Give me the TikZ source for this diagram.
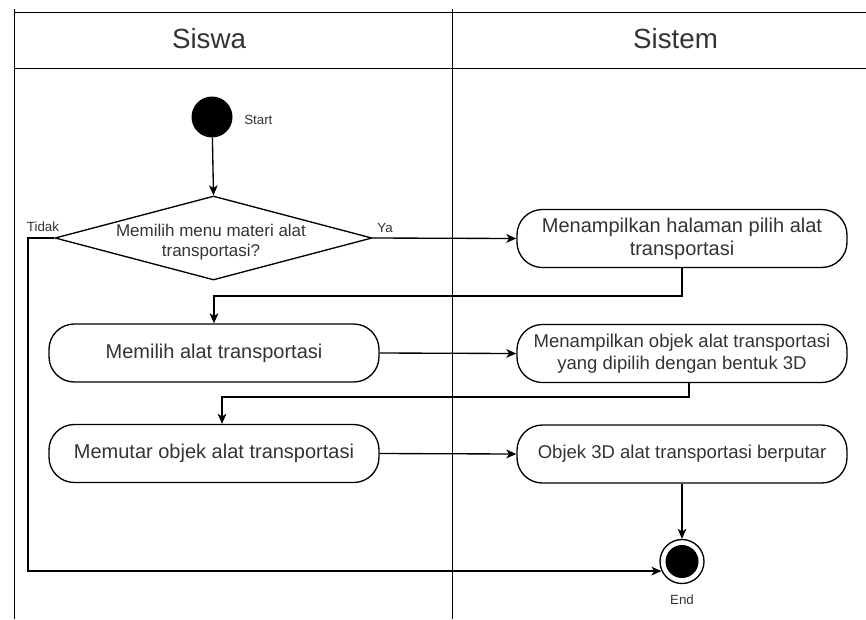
\documentclass[tikz,border=0pt]{standalone}
\usepackage{fontspec}
\setmainfont{Liberation Sans}
\usetikzlibrary{arrows.meta,shapes.geometric,calc}
\definecolor{ink}{HTML}{333333}
\begin{document}
\begin{tikzpicture}[x=0.75pt,y=-0.75pt,
  lane/.style={line width=0.75pt, draw=black},
  act/.style={draw, line width=1pt, rounded corners=19pt, minimum width=247.5pt,
    minimum height=43.5pt, align=center, text=ink, inner sep=0pt,
    font=\fontsize{15}{17.25}\selectfont},
  actsm/.style={act, font=\fontsize{13.9}{16.5}\selectfont},
  arr/.style={draw, line width=1pt, -{Stealth[length=7.5pt,width=6.5pt,inset=2pt]}},
  lbl/.style={text=ink, font=\fontsize{10}{12}\selectfont, inner sep=0pt},
  head/.style={text=ink, font=\fontsize{20.8}{24}\selectfont, inner sep=0pt}
]
\useasboundingbox (0,0) rectangle (866,619);

% swimlane frame
\coordinate (ftop) at (14,9);
\coordinate (fbot) at (14,619);
\coordinate (dtop) at (452,9);
\coordinate (dbot) at (452,619);
\draw[lane] (ftop) -- (fbot);
\draw[lane] (dtop) -- (dbot);
\draw[lane] (14,12.5) -- (866,12.5);
\draw[lane] (14,68) -- (866,68);
\node[head] (siswa) at (209,39) {Siswa};
\node[head] (sistem) at (675.5,39) {Sistem};

% initial node and decision
\node[circle, fill=black, minimum size=30.75pt, inner sep=0pt] (start) at (212,117) {};
\node[lbl, anchor=west] (startlbl) at (244,120) {Start};
\node[diamond, draw, line width=1pt, minimum width=237.75pt, minimum height=63pt,
      inner sep=0pt] (dec) at (213.5,238) {};
\node[text=ink, align=center, inner sep=0pt, font=\fontsize{12.75}{15}\selectfont]
      (dectxt) at (211,242) {Memilih menu materi alat\\transportasi?};
\node[lbl] (ya) at (385,228) {Ya};
\node[lbl] (tidak) at (43,227) {Tidak};

% activities
\node[act] (b1) at (682,238.5) {Menampilkan halaman pilih alat\\transportasi};
\node[act] (b2) at (214,353) {Memilih alat transportasi};
\node[actsm] (b3) at (682,353.5) {Menampilkan objek alat transportasi\\yang dipilih dengan bentuk 3D};
\node[act] (b4) at (214,453.5) {Memutar objek alat transportasi};
\node[actsm] (b5) at (682,454) {Objek 3D alat transportasi berputar};

% final node
\node[circle, draw, line width=1pt, minimum size=33pt, inner sep=0pt] (endc) at (682,561.5) {};
\node[circle, fill=black, minimum size=24.75pt, inner sep=0pt] (enddot) at (endc.center) {};
\node[lbl] (endlbl) at (682,600) {End};

% flow
\coordinate (j1) at (0,296);
\coordinate (j2) at (0,397);
\coordinate (lx) at (28,0);
\coordinate (b3out) at ([xshift=5.25pt]b3.south);
\coordinate (b4in) at ([xshift=6pt]b4.north);

\draw[arr] (start) -- (dec.north);
\draw[arr] (dec.east) -- (b1.west);
\draw[arr] (b1.south) -- (b1.south |- j1) -| (b2.north);
\draw[arr] (b2.east) -- (b3.west);
\draw[arr] (b3out) -- (b3out |- j2) -| (b4in);
\draw[arr] (b4.east) -- (b5.west);
\draw[arr] (b5.south) -- (endc.north);
\draw[arr] (dec.west) -- (dec.west -| lx) |- (endc.205);
\end{tikzpicture}
\end{document}
